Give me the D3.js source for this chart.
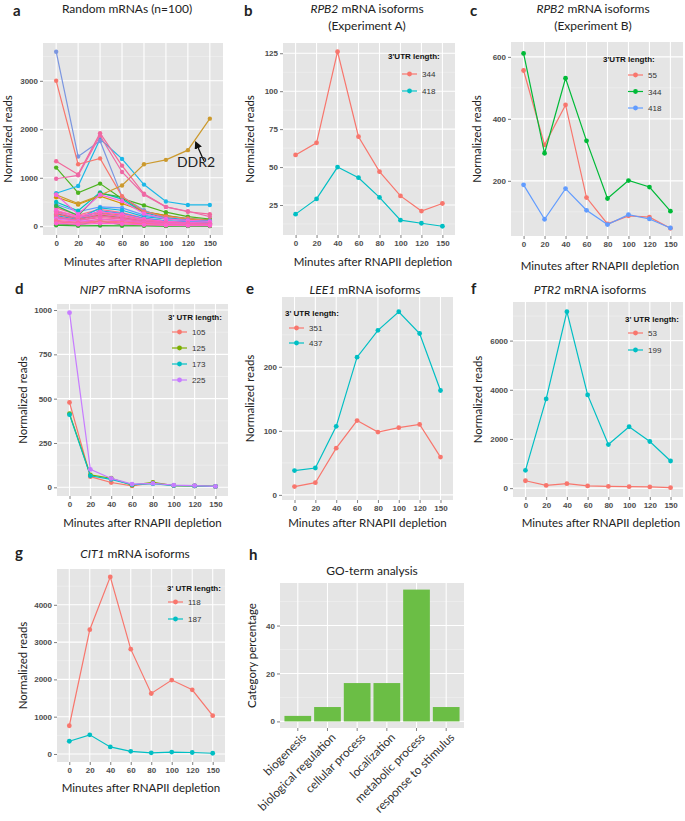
<!DOCTYPE html>
<html>
<head>
<meta charset="utf-8">
<script src="https://cdn.jsdelivr.net/npm/d3@7"></script>
<style>
  body { margin: 0; background: #fff; }
  svg text { font-family: Lato, "Open Sans", sans-serif; fill: #222; }
  .axis text { font-family: "Liberation Sans", Arial, sans-serif; font-weight: bold; font-size: 8px; fill: #4d4d4d; }
  .axis line { stroke: #7f7f7f; }
  .legend text { font-family: "Liberation Sans", Arial, sans-serif; font-size: 8px; fill: #333; }
  .legend .ltitle { font-weight: bold; fill: #111; }
</style>
</head>
<body>
<svg id="fig" width="685" height="821"></svg>
<script>
const minutes = ["0", "20", "40", "60", "80", "100", "120", "150"];

// panel a: a readable subset of the 100 random mRNAs
const randomSeries = [
  [380, 230, 350, 280, 170, 110, 90, 70],
  [260, 160, 230, 180, 110, 80, 60, 50],
  [220, 140, 320, 260, 160, 110, 90, 70],
  [180, 120, 270, 200, 130, 90, 70, 60],
  [450, 300, 400, 380, 230, 160, 110, 80],
  [500, 320, 700, 560, 280, 180, 130, 100],
  [420, 220, 680, 600, 300, 220, 160, 130],
  [600, 450, 620, 470, 310, 220, 150, 110],
  [1210, 690, 880, 570, 430, 290, 200, 150],
  [680, 830, 1800, 1390, 860, 510, 440, 440],
  [3600, 1440, 1760, 610, 330, 160, 120, 90],
  [3000, 1280, 1400, 620, 300, 200, 160, 120],
  [650, 470, 640, 840, 1280, 1370, 1570, 2220],
  [20, 10, 15, 10, 10, 5, 5, 5],
  [50, 30, 110, 30, 20, 10, 10, 5],
  [300, 150, 380, 330, 200, 150, 120, 110],
  [310, 210, 280, 230, 140, 90, 70, 60],
  [250, 150, 220, 170, 100, 70, 50, 40],
  [650, 250, 650, 520, 260, 150, 120, 100],
  [1340, 1070, 1920, 1250, 670, 400, 300, 250],
  [980, 1050, 1870, 1120, 650, 400, 310, 200],
  [330, 200, 300, 250, 150, 100, 80, 60],
  [280, 180, 250, 200, 120, 80, 60, 50],
  [200, 120, 180, 150, 90, 60, 50, 40],
  [170, 110, 210, 160, 100, 70, 60, 50],
  [150, 100, 140, 110, 70, 50, 40, 30],
  [120, 80, 110, 90, 60, 40, 30, 25],
  [100, 70, 150, 120, 80, 50, 40, 35],
  [90, 60, 90, 70, 50, 30, 25, 20],
  [60, 40, 60, 50, 30, 20, 15, 15]
];
const randomColors = [
  "#ff6c91", "#39b600", "#00b0f6", "#6e93e8", "#619cff", "#00bfc4", "#2fb44a", "#d39200",
  "#4cb31f", "#1cb8e8", "#7b96e0", "#f8766d", "#cc9a2e", "#30b030", "#44b030", "#12b5e0",
  "#f8766d", "#f26a80", "#f564e3", "#f2679a", "#ee6aa7", "#fb61d7", "#ff62bc", "#f46a9b",
  "#ef67b0", "#e76bf3", "#ff6a98", "#f264c4", "#ff6c91", "#fd61d1"
];

const rpb2AIsoforms = ["344", "418"];
const rpb2A = [
  [58, 66, 126, 70, 47, 31, 21, 26],
  [19, 29, 50, 43, 30, 15, 13, 11]
];
const rpb2BIsoforms = ["55", "344", "418"];
const rpb2B = [
  [556, 316, 445, 146, 61, 87, 83, 47],
  [611, 289, 531, 329, 143, 201, 180, 102],
  [187, 76, 175, 105, 59, 91, 77, 48]
];
const nip7Isoforms = ["105", "125", "173", "225"];
const nip7 = [
  [479, 60, 27, 8, 25, 10, 8, 5],
  [415, 70, 51, 12, 28, 10, 8, 5],
  [410, 65, 45, 15, 20, 10, 8, 5],
  [985, 101, 50, 18, 22, 12, 10, 5]
];
const lee1Isoforms = ["351", "437"];
const lee1 = [
  [13, 19, 73, 116, 98, 105, 110, 59],
  [38, 42, 107, 215, 257, 286, 252, 163]
];
const ptr2Isoforms = ["53", "199"];
const ptr2 = [
  [300, 110, 180, 90, 70, 60, 50, 20],
  [723, 3629, 7176, 3793, 1773, 2497, 1896, 1105]
];
const cit1Isoforms = ["118", "187"];
const cit1 = [
  [757, 3333, 4748, 2811, 1622, 1982, 1721, 1027],
  [342, 514, 189, 70, 30, 50, 40, 20]
];
const goTerms = ["biogenesis", "biological regulation", "cellular process", "localization", "metabolic process", "response to stimulus"];
const goPercent = [2.3, 6, 16, 16, 55, 6];

const hue2 = ["#F8766D", "#00BFC4"];
const hue3 = ["#F8766D", "#00BA38", "#619CFF"];
const hue4 = ["#F8766D", "#7CAE00", "#00BFC4", "#C77CFF"];

const svg = d3.select("#fig");
const labelSize = 11.5;

const drawGrid = (g, box, y, majors, step) => {
  const [lo, hi] = y.domain();
  const minors = d3.range(Math.ceil((lo - step / 2) / step) * step + step / 2, hi, step)
    .filter((v) => v > lo && v < hi);
  g.append("rect")
    .attr("x", box.x0).attr("y", box.y0)
    .attr("width", box.x1 - box.x0).attr("height", box.y1 - box.y0)
    .attr("fill", "#E5E5E5");
  g.selectAll(".minor").data(minors).join("line")
    .attr("x1", box.x0).attr("x2", box.x1)
    .attr("y1", (d) => y(d)).attr("y2", (d) => y(d))
    .attr("stroke", "#F2F2F2").attr("stroke-width", 0.6);
  g.selectAll(".major").data(majors).join("line")
    .attr("x1", box.x0).attr("x2", box.x1)
    .attr("y1", (d) => y(d)).attr("y2", (d) => y(d))
    .attr("stroke", "#fff").attr("stroke-width", 1.1);
};

const drawAxes = (g, box, x, y, ticks) => {
  g.append("g").attr("class", "axis")
    .attr("transform", `translate(${box.x0},0)`)
    .call(d3.axisLeft(y).tickValues(ticks).tickFormat(d3.format("d")).tickSize(3).tickPadding(2))
    .call((a) => a.select(".domain").remove());
  g.append("g").attr("class", "axis")
    .attr("transform", `translate(0,${box.y1})`)
    .call(d3.axisBottom(x).tickSize(3).tickPadding(2))
    .call((a) => a.select(".domain").remove());
};

const drawLabels = (g, p) => {
  g.append("text").attr("x", p.letter[0]).attr("y", p.letter[1])
    .attr("font-weight", "bold").attr("font-size", 15).attr("font-family", "Liberation Sans, Arial")
    .text(p.letterText);
  p.title.forEach((t, i) => {
    const txt = g.append("text").attr("x", p.titleX).attr("y", p.titleY + i * 17)
      .attr("text-anchor", "middle").attr("font-size", 12);
    if (t.italic) {
      txt.append("tspan").attr("font-style", "italic").text(t.italic);
      txt.append("tspan").text(t.rest);
    } else {
      txt.text(t.rest);
    }
  });
  if (p.xLabel) {
    g.append("text").attr("x", (p.box.x0 + p.box.x1) / 2 + (p.xShift || 0)).attr("y", p.xLabelY)
      .attr("text-anchor", "middle").attr("font-size", labelSize).text(p.xLabel);
  }
  g.append("text")
    .attr("transform", `translate(${p.yLabelX},${(p.box.y0 + p.box.y1) / 2}) rotate(-90)`)
    .attr("text-anchor", "middle").attr("dy", "0.35em").attr("font-size", labelSize)
    .text(p.yLabel || "Normalized reads");
};

const drawLegend = (g, lg, names, colors) => {
  const l = g.append("g").attr("class", "legend");
  l.append("text").attr("class", "ltitle").attr("x", lg.x).attr("y", lg.y + 3).text(lg.title);
  const items = l.selectAll(".item").data(names).join("g")
    .attr("transform", (d, i) => `translate(0,${lg.first + i * lg.gap})`);
  items.append("line")
    .attr("x1", lg.x + lg.dx).attr("x2", lg.x + lg.dx + 15)
    .attr("stroke", (d, i) => colors[i]).attr("stroke-width", 1.2);
  items.append("circle").attr("cx", lg.x + lg.dx + 7.5).attr("r", 2.4)
    .attr("fill", (d, i) => colors[i]);
  items.append("text").attr("x", lg.x + lg.dx + 20).attr("y", 3).text((d) => d);
};

const linePanel = (p) => {
  const { box } = p;
  const g = svg.append("g");
  const x = d3.scalePoint().domain(minutes).range([box.x0, box.x1]).padding(0.6);
  const y = d3.scaleLinear().domain(p.yDomain).range([box.y1, box.y0]);
  drawGrid(g, box, y, p.yTicks, p.yTicks[1] - p.yTicks[0]);
  g.selectAll(".vgrid").data(minutes).join("line")
    .attr("x1", (d) => x(d)).attr("x2", (d) => x(d))
    .attr("y1", box.y0).attr("y2", box.y1)
    .attr("stroke", "#fff").attr("stroke-width", 1.1);
  drawAxes(g, box, x, y, p.yTicks);

  const line = d3.line().x((d, i) => x(minutes[i])).y((d) => y(d));
  const series = g.selectAll(".series").data(p.data).join("g")
    .attr("fill", (d, i) => p.colors[i]).attr("stroke", (d, i) => p.colors[i]);
  series.append("path").attr("d", line).attr("fill", "none").attr("stroke-width", 1.2);
  series.selectAll("circle").data((d) => d).join("circle")
    .attr("cx", (d, i) => x(minutes[i])).attr("cy", (d) => y(d))
    .attr("r", p.r || 2.4).attr("stroke", "none");

  if (p.legend) drawLegend(g, p.legend, p.names, p.colors);
  drawLabels(g, p);
  return { g, x, y };
};

// a
const pa = linePanel({
  box: { x0: 43, x1: 223, y0: 43, y1: 235 },
  yDomain: [-180, 3780], yTicks: [0, 1000, 2000, 3000],
  data: randomSeries, colors: randomColors, r: 2.2,
  letter: [13, 16], letterText: "a",
  title: [{ rest: "Random mRNAs (n=100)" }], titleX: 127, titleY: 13,
  xLabel: "Minutes after RNAPII depletion", xLabelY: 266, xShift: 10, yLabelX: 8
});
svg.append("defs").append("marker")
  .attr("id", "arrow").attr("viewBox", "0 0 10 10").attr("refX", 8).attr("refY", 5)
  .attr("markerWidth", 6).attr("markerHeight", 6).attr("orient", "auto")
  .append("path").attr("d", "M0,0 L10,5 L0,10 z").attr("fill", "#111");
pa.g.append("line")
  .attr("x1", pa.x("150") - 6).attr("y1", pa.y(1350))
  .attr("x2", pa.x("150") - 14).attr("y2", pa.y(1730))
  .attr("stroke", "#111").attr("stroke-width", 1.3).attr("marker-end", "url(#arrow)");
pa.g.append("text").attr("x", pa.x("120") - 11).attr("y", pa.y(1230))
  .attr("font-size", 14).text("DDR2");

// b
linePanel({
  box: { x0: 283, x1: 455, y0: 43, y1: 235 },
  yDomain: [5.25, 131.75], yTicks: [25, 50, 75, 100, 125],
  data: rpb2A, colors: hue2, names: rpb2AIsoforms,
  legend: { x: 388, y: 56, title: "3'UTR length:", first: 74, gap: 17, dx: 14 },
  letter: [244, 16], letterText: "b",
  title: [{ italic: "RPB2", rest: " mRNA isoforms" }, { rest: "(Experiment A)" }], titleX: 367, titleY: 13,
  xLabel: "Minutes after RNAPII depletion", xLabelY: 266, xShift: 4, yLabelX: 250
});

// c
linePanel({
  box: { x0: 511, x1: 683, y0: 42, y1: 236 },
  yDomain: [22, 648], yTicks: [200, 400, 600],
  data: rpb2B, colors: hue3, names: rpb2BIsoforms,
  legend: { x: 603, y: 59, title: "3'UTR length:", first: 75, gap: 16.5, dx: 25 },
  letter: [470, 16], letterText: "c",
  title: [{ italic: "RPB2", rest: " mRNA isoforms" }, { rest: "(Experiment B)" }], titleX: 593, titleY: 13,
  xLabel: "Minutes after RNAPII depletion", xLabelY: 270, xShift: 3, yLabelX: 477
});

// d
linePanel({
  box: { x0: 57, x1: 228, y0: 304, y1: 496 },
  yDomain: [-49, 1034], yTicks: [0, 250, 500, 750, 1000],
  data: nip7, colors: hue4, names: nip7Isoforms,
  legend: { x: 168, y: 317, title: "3' UTR length:", first: 332, gap: 16, dx: 4 },
  letter: [15, 294], letterText: "d",
  title: [{ italic: "NIP7", rest: " mRNA isoforms" }], titleX: 135, titleY: 294,
  xLabel: "Minutes after RNAPII depletion", xLabelY: 527, xShift: 0, yLabelX: 23
});

// e
linePanel({
  box: { x0: 282, x1: 453, y0: 297, y1: 500 },
  yDomain: [-8, 309], yTicks: [0, 100, 200],
  data: lee1, colors: hue2, names: lee1Isoforms,
  legend: { x: 285, y: 313, title: "3' UTR length:", first: 328, gap: 15, dx: 4 },
  letter: [246, 294], letterText: "e",
  title: [{ italic: "LEE1", rest: " mRNA isoforms" }], titleX: 365, titleY: 294,
  xLabel: "Minutes after RNAPII depletion", xLabelY: 527, xShift: 0, yLabelX: 250
});

// f
linePanel({
  box: { x0: 513, x1: 683, y0: 302, y1: 497 },
  yDomain: [-360, 7570], yTicks: [0, 2000, 4000, 6000],
  data: ptr2, colors: hue2, names: ptr2Isoforms,
  legend: { x: 625, y: 319, title: "3' UTR length:", first: 333, gap: 17, dx: 3 },
  letter: [471, 294], letterText: "f",
  title: [{ italic: "PTR2", rest: " mRNA isoforms" }], titleX: 590, titleY: 294,
  xLabel: "Minutes after RNAPII depletion", xLabelY: 527, xShift: 3, yLabelX: 478
});

// g
linePanel({
  box: { x0: 57, x1: 225, y0: 569, y1: 762 },
  yDomain: [-215, 4960], yTicks: [0, 1000, 2000, 3000, 4000],
  data: cit1, colors: hue2, names: cit1Isoforms,
  legend: { x: 167, y: 588, title: "3' UTR length:", first: 602, gap: 17, dx: 1 },
  letter: [15, 558], letterText: "g",
  title: [{ italic: "CIT1", rest: " mRNA isoforms" }], titleX: 135, titleY: 558,
  xLabel: "Minutes after RNAPII depletion", xLabelY: 792, xShift: 0, yLabelX: 23
});

// h
(() => {
  const box = { x0: 280, x1: 464, y0: 583, y1: 728 };
  const g = svg.append("g");
  const x = d3.scaleBand().domain(goTerms).range([box.x0, box.x1]).paddingInner(0.1).paddingOuter(0.15);
  const y = d3.scaleLinear().domain([-2.75, 57.75]).range([box.y1, box.y0]);
  drawGrid(g, box, y, [0, 20, 40], 20);
  g.selectAll(".vgrid").data(goTerms).join("line")
    .attr("x1", (d) => x(d) + x.bandwidth() / 2).attr("x2", (d) => x(d) + x.bandwidth() / 2)
    .attr("y1", box.y0).attr("y2", box.y1)
    .attr("stroke", "#fff").attr("stroke-width", 1.1);
  g.selectAll(".bar").data(goPercent).join("rect")
    .attr("x", (d, i) => x(goTerms[i])).attr("width", x.bandwidth())
    .attr("y", (d) => y(d)).attr("height", (d) => y(0) - y(d))
    .attr("fill", "#6BBE45");
  g.append("g").attr("class", "axis")
    .attr("transform", `translate(${box.x0},0)`)
    .call(d3.axisLeft(y).tickValues([0, 20, 40]).tickSize(3).tickPadding(2))
    .call((a) => a.select(".domain").remove());
  const xa = g.append("g").attr("class", "axis")
    .attr("transform", `translate(0,${box.y1})`)
    .call(d3.axisBottom(x).tickSize(3).tickPadding(2))
    .call((a) => a.select(".domain").remove());
  xa.selectAll("text")
    .style("font-family", "Lato, sans-serif").style("font-weight", "normal").style("font-size", "11.8px")
    .style("fill", "#333").attr("text-anchor", "end")
    .attr("transform", "translate(4,5) rotate(-45)").attr("dy", "0.6em").attr("y", 0);
  drawLabels(g, {
    box, letter: [249, 560], letterText: "h",
    title: [{ rest: "GO-term analysis" }], titleX: 372, titleY: 575,
    yLabelX: 252, yLabel: "Category percentage"
  });
})();
</script>
</body>
</html>
